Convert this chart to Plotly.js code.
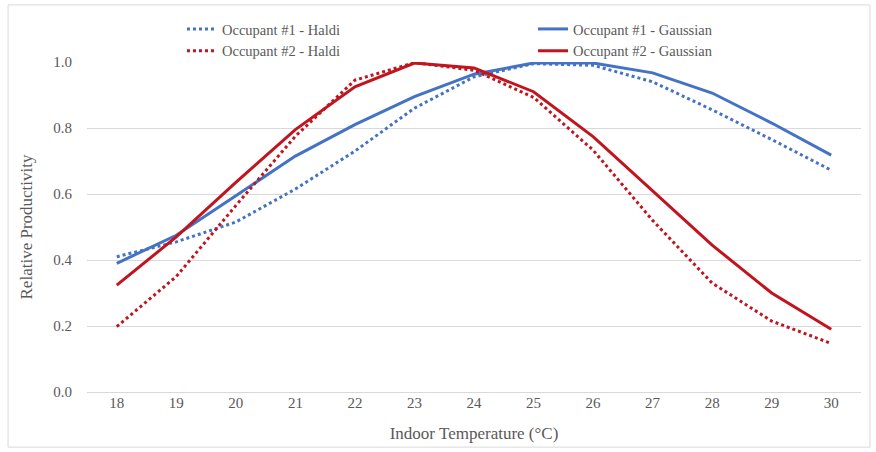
<!DOCTYPE html>
<html>
<head>
<meta charset="utf-8">
<script src="https://cdn.plot.ly/plotly-3.0.1.min.js"></script>
<style>
  html, body { margin: 0; padding: 0; background: #fff; }
  #chart { width: 876px; height: 452px; }
</style>
</head>
<body>
<div id="chart"></div>
<script>
// Indoor temperature categories (°C)
const temperatures = ['18', '19', '20', '21', '22', '23', '24', '25', '26', '27', '28', '29', '30'];

// Relative productivity curves
const occ1Haldi    = [0.41, 0.455, 0.515, 0.615, 0.73, 0.86, 0.955, 0.995, 0.99, 0.94, 0.855, 0.765, 0.672];
const occ1Gaussian = [0.39, 0.475, 0.595, 0.715, 0.81, 0.895, 0.963, 0.997, 0.997, 0.967, 0.906, 0.815, 0.718];
const occ2Haldi    = [0.198, 0.35, 0.565, 0.775, 0.945, 0.998, 0.975, 0.893, 0.733, 0.52, 0.33, 0.215, 0.147];
const occ2Gaussian = [0.324, 0.47, 0.635, 0.795, 0.925, 0.997, 0.982, 0.91, 0.774, 0.61, 0.445, 0.3, 0.19];

const yTicks = [0, 0.2, 0.4, 0.6, 0.8, 1.0];

const BLUE = '#4472C4';
const RED = '#C0151F';
const FONT = 'Liberation Serif, Times New Roman, serif';
const TEXT = '#595959';

// Haldi curves go in the left legend column, Gaussian curves in the right one
const traces = [
  { name: 'Occupant #1 - Haldi', y: occ1Haldi, legend: 'legend', line: { color: BLUE, width: 3, dash: 'dot' } },
  { name: 'Occupant #1 - Gaussian', y: occ1Gaussian, legend: 'legend2', line: { color: BLUE, width: 3 } },
  { name: 'Occupant #2 - Haldi', y: occ2Haldi, legend: 'legend', line: { color: RED, width: 3, dash: 'dot' } },
  { name: 'Occupant #2 - Gaussian', y: occ2Gaussian, legend: 'legend2', line: { color: RED, width: 3 } }
].map(t => Object.assign({ type: 'scatter', mode: 'lines', x: temperatures }, t));

// Both legend columns sit in the top margin above the plot area
const legendBase = {
  orientation: 'v',
  xanchor: 'left', yanchor: 'top',
  y: 1 + 49 / 330,
  font: { family: FONT, size: 14.5, color: TEXT },
  bgcolor: 'rgba(0,0,0,0)'
};

const layout = {
  width: 876,
  height: 452,
  margin: { l: 87, r: 15, t: 62, b: 60 },
  paper_bgcolor: '#fff',
  plot_bgcolor: '#fff',
  font: { family: FONT, size: 15, color: TEXT },
  showlegend: true,
  legend: Object.assign({}, legendBase, { x: 0.1227 }),
  legend2: Object.assign({}, legendBase, { x: 0.5762 }),
  xaxis: {
    type: 'category',
    range: [-0.5, 12.5],
    showgrid: false,
    showline: false,
    ticks: '',
    tickfont: { family: FONT, size: 15, color: TEXT },
    title: { text: 'Indoor Temperature (°C)', font: { family: FONT, size: 17, color: TEXT }, standoff: 17 },
    automargin: true,
    fixedrange: true
  },
  yaxis: {
    range: [0, 1.0],
    tickvals: yTicks,
    tickformat: '.1f',
    showgrid: true,
    gridcolor: '#D9D9D9',
    gridwidth: 1,
    zeroline: true,
    zerolinecolor: '#D9D9D9',
    zerolinewidth: 1,
    showline: false,
    ticks: '',
    ticklabelstandoff: 14,
    tickfont: { family: FONT, size: 15, color: TEXT },
    title: { text: 'Relative Productivity', font: { family: FONT, size: 17, color: TEXT }, standoff: 16 },
    fixedrange: true
  },
  shapes: [{
    type: 'rect', xref: 'paper', yref: 'paper',
    x0: -0.102, x1: 1.0116, y0: -0.167, y1: 1.173,
    line: { color: '#D9D9D9', width: 1 },
    layer: 'below'
  }]
};

Plotly.newPlot('chart', traces, layout, { displayModeBar: false, staticPlot: true });
</script>
</body>
</html>
